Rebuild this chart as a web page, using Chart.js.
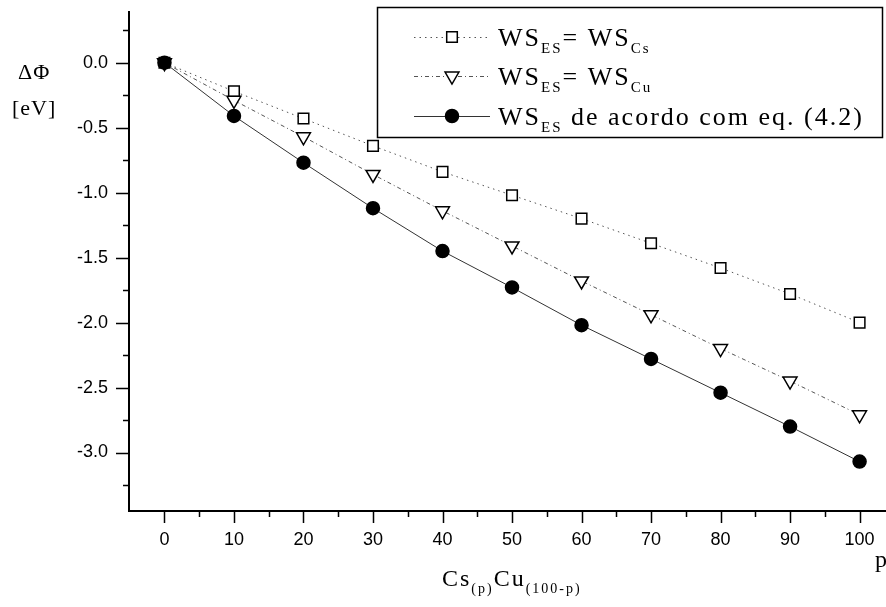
<!DOCTYPE html>
<html>
<head>
<meta charset="utf-8">
<script src="https://cdn.jsdelivr.net/npm/chart.js@4/dist/chart.umd.min.js"></script>
<style>
  html, body { margin: 0; padding: 0; background: #fff; }
  #wrap { width: 886px; height: 607px; position: relative; }
</style>
</head>
<body>
<div id="wrap"><canvas id="chartCanvas"></canvas></div>
<script>
// p = fração de Cs na liga Cs(p)Cu(100-p)
var pValues = [0, 10, 20, 30, 40, 50, 60, 70, 80, 90, 100]

// variação da função trabalho, em eV
var dPhiCs = [0, -0.22, -0.43, -0.64, -0.84, -1.02, -1.20, -1.39, -1.58, -1.78, -2.00]
var dPhiCu = [0, -0.29, -0.57, -0.86, -1.14, -1.41, -1.68, -1.94, -2.20, -2.45, -2.71]
var dPhiEq = [0, -0.41, -0.77, -1.12, -1.45, -1.73, -2.02, -2.28, -2.54, -2.80, -3.07]

// marcas dos eixos
var xTicks = [0, 10, 20, 30, 40, 50, 60, 70, 80, 90, 100]
var yTicks = [0, -0.5, -1.0, -1.5, -2.0, -2.5, -3.0]
var yTickLabels = ['0.0', '-0.5', '-1.0', '-1.5', '-2.0', '-2.5', '-3.0']

var serif = '"Liberation Serif", "Times New Roman", serif'
var sans = '"Liberation Sans", Arial, sans-serif'

function toPoints(ys) {
    return pValues.map((p, i) => ({ x: p, y: ys[i] }))
}

// estilos das três séries (usados também na legenda)
var styleCs = { pointStyle: 'rect', radius: 7.5, rotation: 0, fill: '#fff', dash: [1.5, 4] }
var styleCu = { pointStyle: 'triangle', radius: 8, rotation: 180, fill: '#fff', dash: [4, 3, 1, 3] }
var styleEq = { pointStyle: 'circle', radius: 6.5, rotation: 0, fill: '#000', dash: [] }

function makeDataset(ys, st, order, lineColor) {
    return {
        data: toPoints(ys),
        order: order,
        borderColor: lineColor,
        borderWidth: 1,
        borderDash: st.dash,
        tension: 0,
        fill: false,
        pointStyle: st.pointStyle,
        pointRadius: st.radius,
        pointRotation: st.rotation,
        pointBackgroundColor: st.fill,
        pointBorderColor: '#000',
        pointBorderWidth: 1.5,
        pointHoverRadius: st.radius
    }
}

// escreve texto com índices (subscritos) lado a lado
function drawRich(ctx, x, baseline, parts) {
    parts.forEach(part => {
        ctx.font = part.s + 'px ' + serif
        ctx.fillText(part.t, x, baseline + (part.dy || 0))
        x += ctx.measureText(part.t).width
    })
}

// sem folgas extra: a área do gráfico fica onde a definimos
function fixBox(s) {
    s.paddingTop = 0
    s.paddingBottom = 0
    s.paddingLeft = 0
    s.paddingRight = 0
}

// marcas principais e secundárias por fora dos eixos
var tickMarks = {
    id: 'tickMarks',
    afterDraw(chart) {
        var ctx = chart.ctx
        var xs = chart.scales.x
        var ys = chart.scales.y
        var area = chart.chartArea
        ctx.save()
        ctx.strokeStyle = '#000'
        ctx.lineWidth = 1.5
        ctx.beginPath()
        yTicks.forEach(v => {
            var py = Math.round(ys.getPixelForValue(v)) + 0.5
            ctx.moveTo(area.left - 13, py)
            ctx.lineTo(area.left, py)
        })
        yTicks.concat([0.5]).forEach(v => {
            var py = Math.round(ys.getPixelForValue(v - 0.25)) + 0.5
            ctx.moveTo(area.left - 6, py)
            ctx.lineTo(area.left, py)
        })
        xTicks.forEach(v => {
            var px = Math.round(xs.getPixelForValue(v)) + 0.5
            ctx.moveTo(px, area.bottom)
            ctx.lineTo(px, area.bottom + 12)
            if (v < 100) {
                var pm = Math.round(xs.getPixelForValue(v + 5)) + 0.5
                ctx.moveTo(pm, area.bottom)
                ctx.lineTo(pm, area.bottom + 6)
            }
        })
        ctx.stroke()
        ctx.restore()
    }
}

// títulos dos eixos e a legenda em caixa
var labelsAndLegend = {
    id: 'labelsAndLegend',
    afterDraw(chart) {
        var ctx = chart.ctx
        ctx.save()
        ctx.fillStyle = '#000'
        ctx.textBaseline = 'alphabetic'
        ctx.textAlign = 'left'
        ctx.letterSpacing = '1px'

        // eixo y
        drawRich(ctx, 18, 79, [{ t: 'ΔΦ', s: 22 }])
        drawRich(ctx, 12, 115, [{ t: '[eV]', s: 22 }])

        // eixo x
        ctx.letterSpacing = '2px'
        drawRich(ctx, 442, 586, [
            { t: 'Cs', s: 24 }, { t: '(p)', s: 14, dy: 7 },
            { t: 'Cu', s: 24 }, { t: '(100-p)', s: 14, dy: 7 }
        ])
        drawRich(ctx, 875, 567, [{ t: 'p', s: 24 }])

        // caixa da legenda
        ctx.strokeStyle = '#000'
        ctx.lineWidth = 1.5
        ctx.strokeRect(377.5, 7.5, 505, 130)

        var rows = [
            { y: 37, st: styleCs, color: '#555', parts: [
                { t: 'WS', s: 26 }, { t: 'ES', s: 15, dy: 7 }, { t: '= WS', s: 26 }, { t: 'Cs', s: 15, dy: 7 }] },
            { y: 76, st: styleCu, color: '#555', parts: [
                { t: 'WS', s: 26 }, { t: 'ES', s: 15, dy: 7 }, { t: '= WS', s: 26 }, { t: 'Cu', s: 15, dy: 7 }] },
            { y: 116, st: styleEq, color: '#333', parts: [
                { t: 'WS', s: 26 }, { t: 'ES', s: 15, dy: 7 }, { t: ' de acordo com eq. (4.2)', s: 26 }] }
        ]
        rows.forEach(row => {
            ctx.save()
            ctx.strokeStyle = row.color
            ctx.lineWidth = 1
            ctx.setLineDash(row.st.dash)
            ctx.beginPath()
            ctx.moveTo(414, row.y + 0.5)
            ctx.lineTo(490, row.y + 0.5)
            ctx.stroke()
            ctx.restore()

            ctx.save()
            ctx.fillStyle = row.st.fill
            ctx.strokeStyle = '#000'
            ctx.lineWidth = 1.5
            Chart.helpers.drawPoint(ctx, {
                pointStyle: row.st.pointStyle,
                radius: row.st.radius,
                rotation: row.st.rotation,
                borderWidth: 1.5
            }, 452, row.y)
            ctx.restore()

            drawRich(ctx, 498, row.y + 9, row.parts)
        })
        ctx.restore()
    }
}

var ctx = document.getElementById('chartCanvas')

var myChart = new Chart(ctx, {
    type: 'line',
    data: {
        datasets: [
            makeDataset(dPhiCs, styleCs, 2, '#555'),
            makeDataset(dPhiCu, styleCu, 1, '#555'),
            makeDataset(dPhiEq, styleEq, 0, '#333')
        ]
    },
    options: {
        responsive: true,
        maintainAspectRatio: false,
        animation: false,
        layout: { autoPadding: false, padding: { top: 12, left: 0, right: 0, bottom: 0 } },
        plugins: {
            legend: { display: false },
            tooltip: { enabled: false }
        },
        scales: {
            x: {
                type: 'linear',
                min: -5.1,
                max: 103.8,
                grid: { display: false, drawTicks: false },
                border: { display: true, color: '#000', width: 2 },
                ticks: { color: '#000', font: { family: sans, size: 18 }, padding: 18, maxRotation: 0 },
                afterBuildTicks: s => { s.ticks = xTicks.map(v => ({ value: v })) },
                afterFit: s => { s.height = 96; fixBox(s) }
            },
            y: {
                type: 'linear',
                min: -3.45,
                max: 0.39,
                grid: { display: false, drawTicks: false },
                border: { display: true, color: '#000', width: 2 },
                ticks: {
                    color: '#000',
                    font: { family: sans, size: 18 },
                    padding: 21,
                    callback: (v, i) => yTickLabels[i]
                },
                afterBuildTicks: s => { s.ticks = yTicks.map(v => ({ value: v })) },
                afterFit: s => { s.width = 129; fixBox(s) }
            }
        }
    },
    plugins: [tickMarks, labelsAndLegend]
})
</script>
</body>
</html>
